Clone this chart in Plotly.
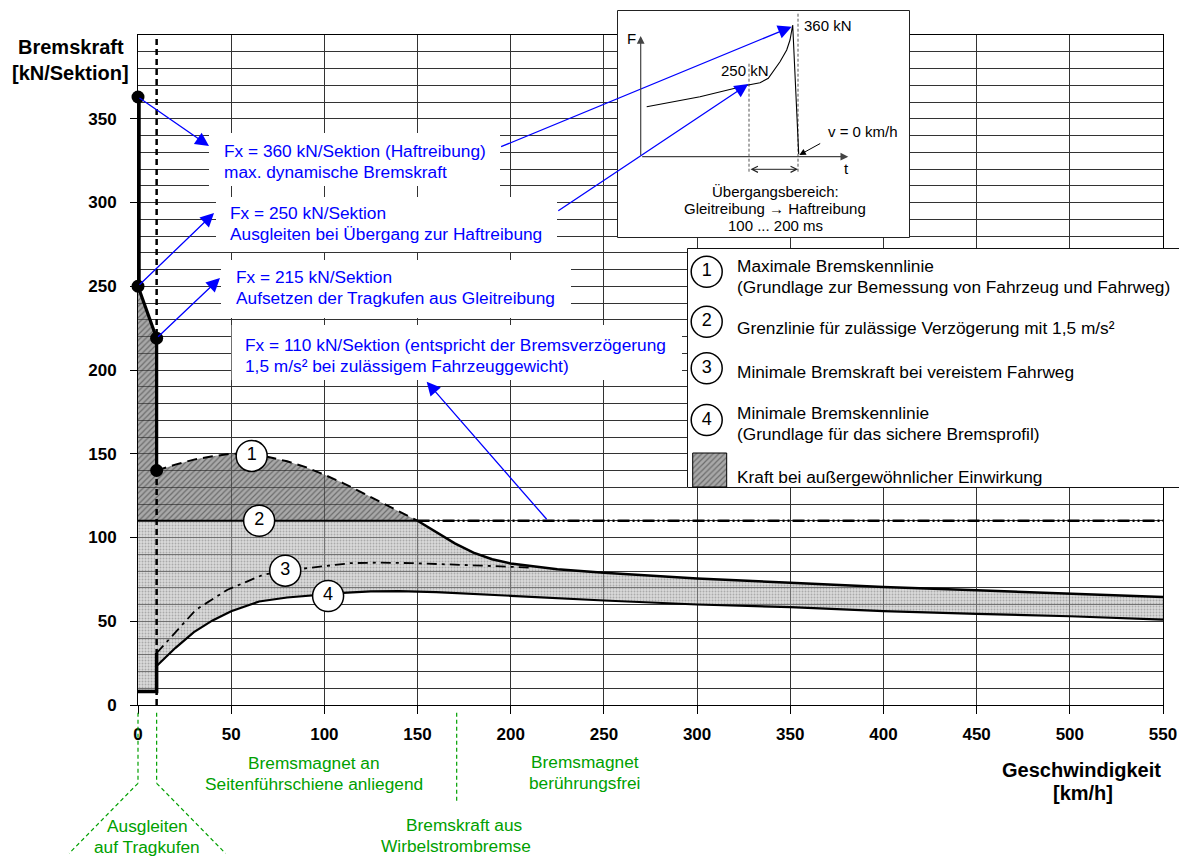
import plotly.graph_objects as go

FONT = "Liberation Sans, Arial, Helvetica, sans-serif"
BLUE = "#0000ff"
GREEN = "#00a000"
GRID = "#333333"
FS = 17.3

# ---------------- data (km/h, kN/Sektion) ----------------
v_max_dyn = [10, 20, 30, 40, 50, 60, 70, 80, 90, 100, 110, 120, 130, 140, 150]
f_max_dyn = [140, 143.5, 146.5, 148.5, 150, 150, 148, 145.5, 142, 137.5, 132.5, 127, 121, 115.5, 110]
v_max_ws = [150, 160, 170, 180, 190, 200, 225, 250, 300, 350, 400, 450, 500, 550]
f_max_ws = [110, 103, 96.5, 91, 87, 84.5, 81, 79, 75.5, 73, 70.5, 68.5, 66.5, 64.5]
v_min = [10, 15, 20, 30, 40, 50, 65, 80, 95, 110, 125, 140, 160, 180, 200, 250, 300, 350, 400, 450, 500, 550]
f_min = [23.3, 28.5, 34, 43.5, 50.5, 56, 61.8, 64.2, 65.8, 67, 67.8, 68, 67.4, 66.4, 65.2, 62.4, 60, 58.4, 56, 54.4, 53, 51]
v_ice = [10, 18, 31, 48, 67, 79, 94, 114, 130, 147, 170, 194, 212]
f_ice = [31, 41, 56.8, 68.8, 77.7, 80.2, 82.3, 84.7, 85, 84.7, 83.8, 82.7, 82]
v_limit_solid = [0, 150]
v_limit_dash = [150, 550]
f_limit = 110
v_key = [0, 0, 10, 10]
f_key = [363, 250, 219, 140]
v_skid = [0, 10, 10]
f_skid = [8, 8, 31]
v_split = 10
f_top = 400

label_v = [61, 65, 79, 102]
label_f = [148.7, 110, 80.2, 65.1]
label_txt = ["1", "2", "3", "4"]

# blue callouts: (tail v, tail f, tip v, tip f)
callouts = [(0, 363, 38.1, 333.7), (0, 250, 40.8, 293.7), (10, 219, 44.0, 254.9), (220, 110, 154.9, 193.0)]

# inset schematic (arbitrary units)
t_inset = [29.7, 83, 131.3, 143, 151.3, 156.3, 163, 169.7, 173, 175.7, 181.7]
F_inset = [131.3, 141.3, 153, 155.3, 159.7, 166.3, 176.3, 188, 198, 213, 84]
t_axis0, F_axis0, t_axis_end, F_axis_end = 23.7, 81.3, 231.3, 202
t_mark = [132, 181]
F_mark_top = [175, 225]
F_mark_bot = 66.3

zone_v = [0, 10, 171]

# ---------------- layout helpers (screen pixels -> paper) ----------------
FW, FH = 1179, 857
L, T, B, R = 138, 8, 152, 0
W = FW - L - R
H = FH - T - B
SX0 = 138   # screen x of paper left
SY0 = 705   # screen y of paper bottom


def pxx(sx):
    return (sx - SX0) / W


def pxy(sy):
    return (SY0 - sy) / H


XDOM = 1025 / W


def vx(v):
    return v / 550 * XDOM


fig = go.Figure()

pat_dark = dict(shape="/", fgcolor="rgba(25,25,25,0.85)", bgcolor="rgba(110,110,110,0.6)", size=4, solidity=0.3)
pat_light = dict(shape=".", fgcolor="rgba(100,100,100,0.8)", bgcolor="rgba(180,180,180,0.5)", size=3, solidity=0.3)

# fills
dark_x = [0, 0, v_key[2]] + v_max_dyn + [0]
dark_y = [f_limit, f_key[1], f_key[2]] + f_max_dyn + [f_limit]
fig.add_trace(go.Scatter(x=dark_x, y=dark_y, fill="toself", mode="lines", line=dict(width=0),
                         fillcolor="rgba(0,0,0,0)", fillpattern=pat_dark, hoverinfo="skip"))
light_x = [0, 0] + v_max_ws + v_min[::-1] + [v_skid[1], 0]
light_y = [f_skid[0], f_limit] + f_max_ws + f_min[::-1] + [f_skid[0], f_skid[0]]
fig.add_trace(go.Scatter(x=light_x, y=light_y, fill="toself", mode="lines", line=dict(width=0),
                         fillcolor="rgba(0,0,0,0)", fillpattern=pat_light, hoverinfo="skip"))

# limit line 110
fig.add_trace(go.Scatter(x=v_limit_solid, y=[f_limit] * 2, mode="lines", line=dict(color="black", width=2)))
fig.add_trace(go.Scatter(x=v_limit_dash, y=[f_limit] * 2, mode="lines",
                         line=dict(color="black", width=2.5, dash="12px,3px,2px,3px,2px,3px")))
# curves
fig.add_trace(go.Scatter(x=v_max_dyn, y=f_max_dyn, mode="lines", line=dict(color="black", width=2, dash="10px,6px")))
fig.add_trace(go.Scatter(x=v_max_ws, y=f_max_ws, mode="lines", line=dict(color="black", width=2.5)))
fig.add_trace(go.Scatter(x=v_min, y=f_min, mode="lines", line=dict(color="black", width=2.2)))
fig.add_trace(go.Scatter(x=v_ice, y=f_ice, mode="lines", line=dict(color="black", width=1.8, dash="10px,5px,3px,5px")))
# vertical dashed at 10 km/h
fig.add_trace(go.Scatter(x=[v_split, v_split], y=[0, f_top], mode="lines",
                         line=dict(color="black", width=2.5, dash="6px,4px")))
# thick characteristic
fig.add_trace(go.Scatter(x=v_key[:2], y=f_key[:2], mode="lines", line=dict(color="black", width=5.5)))
fig.add_trace(go.Scatter(x=v_key, y=f_key, mode="lines", line=dict(color="black", width=3.2)))
fig.add_trace(go.Scatter(x=v_skid, y=f_skid, mode="lines", line=dict(color="black", width=3.5)))
fig.add_trace(go.Scatter(x=v_key, y=f_key, mode="markers", marker=dict(color="black", size=13), cliponaxis=False))
# numbered circles
fig.add_trace(go.Scatter(x=label_v, y=label_f, mode="markers+text", text=label_txt, cliponaxis=False,
                         textposition="middle center", textfont=dict(family=FONT, size=18, color="black"),
                         marker=dict(size=31, color="white", line=dict(color="black", width=1.5))))

# ---------------- inset (x2/y2) ----------------
fig.add_trace(go.Scatter(x=[0.5, 292.5, 292.5, 0.5, 0.5], y=[0.5, 0.5, 227.5, 227.5, 0.5], xaxis="x2", yaxis="y2",
                         fill="toself", fillcolor="white", mode="lines", line=dict(color="#222", width=1)))
fig.add_trace(go.Scatter(x=[t_mark[0], t_mark[0], None, t_mark[1], t_mark[1]],
                         y=[F_mark_bot, F_mark_top[0], None, F_mark_bot, F_mark_top[1]],
                         xaxis="x2", yaxis="y2", mode="lines", line=dict(color="#555", width=1, dash="3px,2px")))
fig.add_trace(go.Scatter(x=t_inset, y=F_inset, xaxis="x2", yaxis="y2", mode="lines",
                         line=dict(color="black", width=1.1)))

# ---------------- legend box (x3/y3) ----------------
LEG_W = FW - 687
fig.add_trace(go.Scatter(x=[0.5, LEG_W + 6, LEG_W + 6, 0.5, 0.5], y=[0.5, 0.5, 239.5, 239.5, 0.5],
                         xaxis="x3", yaxis="y3",
                         fill="toself", fillcolor="white", mode="lines", line=dict(color="#111", width=1)))
fig.add_trace(go.Scatter(x=[5.7, 39.7, 39.7, 5.7, 5.7], y=[1, 1, 35, 35, 1], xaxis="x3", yaxis="y3",
                         fill="toself", fillcolor="rgba(0,0,0,0)", mode="lines", line=dict(color="black", width=1),
                         fillpattern=pat_dark))
fig.add_trace(go.Scatter(x=[19.7] * 4, y=[216.3, 166.3, 119.7, 68], xaxis="x3", yaxis="y3",
                         mode="markers+text", text=label_txt, textposition="middle center",
                         textfont=dict(family=FONT, size=18, color="black"),
                         marker=dict(size=31, color="white", line=dict(color="black", width=1.5))))

annotations = []
shapes = []


def ptext(sx, sy, txt, color="black", size=FS, xanchor="left", bold=False):
    annotations.append(dict(x=pxx(sx), y=pxy(sy), xref="paper", yref="paper",
                            text=("<b>%s</b>" % txt) if bold else txt, showarrow=False,
                            xanchor=xanchor, yanchor="middle", align=xanchor if xanchor != "center" else "center",
                            font=dict(family=FONT, size=size, color=color)))


# white boxes for blue callouts
boxes = [(209, 133, 500, 186), (216, 197, 557, 252), (221, 260, 571, 318), (231.7, 325, 682, 380)]
for x0, y0, x1, y1 in boxes:
    shapes.append(dict(type="rect", xref="paper", yref="paper", x0=pxx(x0), x1=pxx(x1), y0=pxy(y1), y1=pxy(y0),
                       fillcolor="white", line=dict(width=0), layer="above"))
blue_lines = [
    (222, 150.7, "Fx = 360 kN/Sektion (Haftreibung)"),
    (222, 171.7, "max. dynamische Bremskraft"),
    (228, 213, "Fx = 250 kN/Sektion"),
    (228, 234, "Ausgleiten bei Übergang zur Haftreibung"),
    (233.6, 277, "Fx = 215 kN/Sektion"),
    (233.6, 298, "Aufsetzen der Tragkufen aus Gleitreibung"),
    (242.7, 345, "Fx = 110 kN/Sektion (entspricht der Bremsverzögerung"),
    (242.7, 365.5, "1,5 m/s² bei zulässigem Fahrzeuggewicht)"),
]
for sx, sy, txt in blue_lines:
    ptext(sx, sy, txt, color=BLUE)

for tv, tf, hv, hf in callouts:
    annotations.append(dict(x=hv, y=hf, ax=tv, ay=tf, xref="x", yref="y", axref="x", ayref="y", text="",
                            showarrow=True, arrowhead=2, arrowsize=2.1, arrowwidth=1.3, arrowcolor=BLUE))
# arrows into inset
for hx, hy, ax, ay in [(174.7, 211.3, -292.1, 120.6), (131.3, 154, -191.5, 127.7)]:
    annotations.append(dict(x=hx, y=hy, ax=ax, ay=ay, xref="x2", yref="y2", text="",
                            showarrow=True, arrowhead=2, arrowsize=2.1, arrowwidth=1.3, arrowcolor=BLUE))

# inset axes & labels
annotations.append(dict(x=t_axis0, y=F_axis_end, ax=t_axis0, ay=F_axis0, xref="x2", yref="y2", axref="x2",
                        ayref="y2", text="", showarrow=True, arrowhead=2, arrowsize=1.3, arrowwidth=1.2,
                        arrowcolor="#444"))
annotations.append(dict(x=t_axis_end, y=F_axis0, ax=t_axis0, ay=F_axis0, xref="x2", yref="y2", axref="x2",
                        ayref="y2", text="", showarrow=True, arrowhead=2, arrowsize=1.3, arrowwidth=1.2,
                        arrowcolor="#444"))
annotations.append(dict(x=t_mark[1], y=68.7, ax=t_mark[0], ay=68.7, xref="x2", yref="y2", axref="x2",
                        ayref="y2", text="", showarrow=True, arrowhead=5, arrowside="end+start",
                        arrowsize=1.2, arrowwidth=1, arrowcolor="#222"))
annotations.append(dict(x=182.3, y=83, ax=22.4, ay=-12.3, xref="x2", yref="y2", text="",
                        showarrow=True, arrowhead=2, arrowsize=1.3, arrowwidth=1, arrowcolor="black"))
inset_texts = [(14.7, 200, "F"), (229, 70, "t"), (128, 167.3, "250 kN"), (211, 213, "360 kN"),
               (246, 106.3, "v = 0 km/h"), (158, 46.3, "Übergangsbereich:"),
               (158, 29.7, "Gleitreibung → Haftreibung"), (158, 13, "100 ... 200 ms")]
for x, y, txt in inset_texts:
    annotations.append(dict(x=x, y=y, xref="x2", yref="y2", text=txt, showarrow=False,
                            xanchor="center", yanchor="middle", font=dict(family=FONT, size=15, color="black")))

# legend texts (screen y of each line)
legend_lines = [(266, "Maximale Bremskennlinie"),
                (287.3, "(Grundlage zur Bemessung von Fahrzeug und Fahrweg)"),
                (328.3, "Grenzlinie für zulässige Verzögerung mit 1,5 m/s²"),
                (371.7, "Minimale Bremskraft bei vereistem Fahrweg"),
                (413.3, "Minimale Bremskennlinie"),
                (433.8, "(Grundlage für das sichere Bremsprofil)"),
                (476.7, "Kraft bei außergewöhnlicher Einwirkung")]
for sy, txt in legend_lines:
    annotations.append(dict(x=48, y=488 - sy, xref="x3", yref="y3", text=txt, showarrow=False, xanchor="left",
                            yanchor="middle", font=dict(family=FONT, size=FS, color="black")))

# axis titles
ptext(70.8, 47.3, "Bremskraft", size=20, xanchor="center", bold=True)
ptext(70.8, 72.7, "[kN/Sektion]", size=20, xanchor="center", bold=True)
ptext(1081.5, 770, "Geschwindigkeit", size=20, xanchor="center", bold=True)
ptext(1083, 793.3, "[km/h]", size=20, xanchor="center", bold=True)

# green zone texts
green_lines = [(313.8, 762.7, "Bremsmagnet an"), (313.8, 784.3, "Seitenführschiene anliegend"),
               (584.5, 761.7, "Bremsmagnet"), (584.5, 783.3, "berührungsfrei"),
               (464.3, 825, "Bremskraft aus"), (456, 845.5, "Wirbelstrombremse"),
               (147.3, 826, "Ausgleiten"), (147.3, 846.5, "auf Tragkufen")]
for sx, sy, txt in green_lines:
    ptext(sx, sy, txt, color=GREEN, xanchor="center")


# green dashed markers (pixel offsets below the axis)
def gline(v, x0, x1, y0, y1):
    shapes.append(dict(type="line", xref="paper", yref="paper", xsizemode="pixel", ysizemode="pixel",
                       xanchor=vx(v), yanchor=0, x0=x0, x1=x1, y0=y0, y1=y1,
                       line=dict(color=GREEN, width=1.2, dash="4px,3px")))


gline(zone_v[0], 0, 0, -7.7, -78.3)
gline(zone_v[1], 0, 0, -7.7, -78.3)
gline(zone_v[0], 0, -68.8, -78.3, -148.3)
gline(zone_v[1], 0, 68.8, -78.3, -148.3)
gline(zone_v[2], 0, 0, -7.7, -96.7)

tickfont = dict(family=FONT, size=17, color="black", weight="bold")
fig.update_layout(
    width=FW, height=FH, autosize=False,
    margin=dict(l=L, r=R, t=T, b=B, pad=0, autoexpand=False),
    paper_bgcolor="white", plot_bgcolor="white",
    showlegend=False,
    xaxis=dict(domain=[0, XDOM], range=[0, 550], dtick=50, tick0=0, showgrid=True, gridcolor=GRID, gridwidth=1,
               showline=True, linecolor="black", linewidth=1, mirror=True, ticks="outside", ticklen=8,
               tickcolor="black", tickfont=tickfont, zeroline=False, ticklabelstandoff=6, anchor="y",
               automargin=False, fixedrange=True),
    yaxis=dict(domain=[0, 670 / H], range=[0, f_top], tickmode="array", tickvals=list(range(0, 351, 50)),
               showgrid=True, gridcolor=GRID, gridwidth=1,
               minor=dict(dtick=10, tick0=0, showgrid=True, gridcolor=GRID, gridwidth=1, ticks=""),
               showline=True, linecolor="black", linewidth=1, mirror=True, ticks="outside", ticklen=7,
               tickcolor="black", tickfont=tickfont, zeroline=False, ticklabelstandoff=10, anchor="x",
               automargin=False, fixedrange=True),
    xaxis2=dict(domain=[pxx(617), pxx(910)], range=[0, 293], visible=False, anchor="y2", fixedrange=True),
    yaxis2=dict(domain=[pxy(238), pxy(10)], range=[0, 228], visible=False, anchor="x2", fixedrange=True),
    xaxis3=dict(domain=[pxx(687), 1.0], range=[0, LEG_W], visible=False, anchor="y3", fixedrange=True),
    yaxis3=dict(domain=[pxy(488), pxy(248)], range=[0, 240], visible=False, anchor="x3", fixedrange=True),
    annotations=annotations,
    shapes=shapes,
    font=dict(family=FONT),
)

# remove the default 8px page margin so the 1179x857 figure fills the window exactly
fig.write_html("out.html", config={"responsive": False, "displayModeBar": False},
               post_script="document.body.style.margin='0px'; document.body.style.overflow='hidden';")
